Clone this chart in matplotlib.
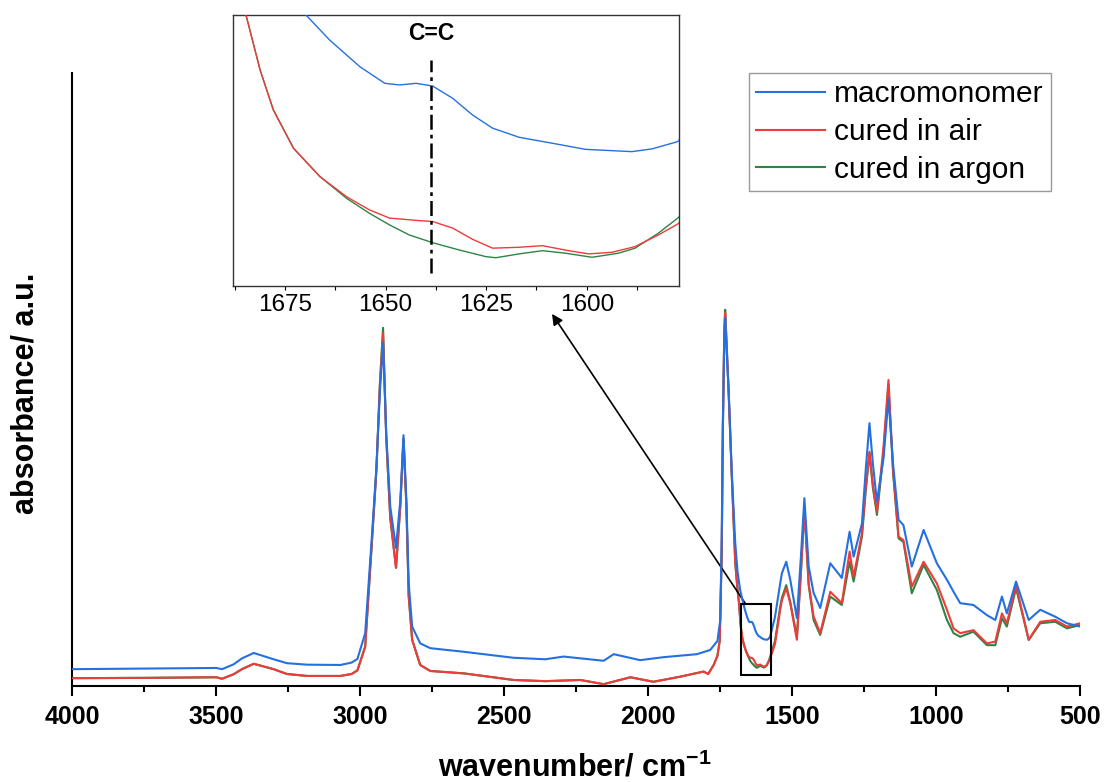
import matplotlib
matplotlib.use('Agg')
import matplotlib.pyplot as plt
from matplotlib.patches import Rectangle

plt.rcParams['font.family'] = ['Liberation Sans', 'DejaVu Sans']
plt.rcParams['mathtext.fontset'] = 'custom'
plt.rcParams['mathtext.rm'] = 'Liberation Sans'
plt.rcParams['mathtext.bf'] = 'Liberation Sans:bold'

# spectra (wavenumber in cm-1, absorbance in a.u.)
blue_wn = [4000, 3750, 3500, 3480, 3440, 3411, 3370, 3301, 3255, 3185, 3069, 3030, 3010,
           2983, 2959, 2944, 2932, 2921, 2910, 2896, 2876, 2861, 2850, 2840, 2832, 2820,
           2792, 2757, 2641, 2468, 2358, 2294, 2155, 2120, 2028, 1947, 1831, 1785, 1760,
           1750, 1745, 1741, 1736, 1733, 1728, 1721, 1710, 1698, 1690, 1681,
           1669.8, 1663.9, 1656.4, 1650.2, 1646.5, 1642.4, 1638.3, 1633.3, 1628.4, 1623.4,
           1616.8, 1608.6, 1600.3, 1588.8, 1583.8, 1577.4,
           1560, 1542, 1536, 1521, 1507, 1484, 1470, 1458, 1443, 1426, 1403, 1368, 1328,
           1301, 1287, 1258, 1245, 1232, 1220, 1206, 1183, 1166, 1150, 1131, 1114, 1085,
           1044, 998, 963, 940, 917, 871, 824, 795, 772, 755, 723, 679, 639, 587, 546, 500]
blue_abs = [0.028, 0.029, 0.030, 0.028, 0.036, 0.046, 0.055, 0.0445, 0.038, 0.0355, 0.035, 0.039, 0.045,
            0.088, 0.2545, 0.3655, 0.49, 0.572, 0.4217, 0.299, 0.23, 0.31, 0.418, 0.31, 0.172, 0.099,
            0.071, 0.063, 0.057, 0.047, 0.0445, 0.049, 0.042, 0.053, 0.043, 0.048, 0.053, 0.06, 0.075,
            0.11, 0.25, 0.438, 0.58, 0.613, 0.56, 0.493, 0.355, 0.238, 0.19, 0.16,
            0.137, 0.126, 0.1143, 0.107, 0.1063, 0.107, 0.1058, 0.1004, 0.0931, 0.0873,
            0.0833, 0.0807, 0.0780, 0.0770, 0.0782, 0.0814,
            0.115, 0.171, 0.188, 0.207, 0.177, 0.113, 0.2155, 0.313, 0.199, 0.155, 0.13, 0.2045, 0.18,
            0.257, 0.2155, 0.271, 0.36, 0.438, 0.37, 0.307, 0.38, 0.4795, 0.37, 0.277, 0.268, 0.199,
            0.26, 0.2045, 0.177, 0.157, 0.138, 0.135, 0.118, 0.11, 0.149, 0.121, 0.174, 0.11, 0.127,
            0.1155, 0.1045, 0.099]

red_wn = [4000, 3750, 3500, 3480, 3440, 3411, 3370, 3301, 3255, 3185, 3069, 3030, 3010,
          2983, 2959, 2944, 2932, 2921, 2910, 2896, 2876, 2861, 2850, 2840, 2832, 2820,
          2792, 2757, 2641, 2468, 2358, 2236, 2155, 2062, 1982, 1889, 1808, 1792, 1773,
          1760, 1752, 1745, 1741, 1736, 1733, 1728, 1721, 1710, 1698, 1690,
          1684.7, 1681.2, 1677.9, 1672.9, 1666.3, 1659.7, 1654, 1649, 1641.6, 1638.3,
          1633.3, 1628.4, 1623.4, 1616.8, 1611, 1604.5, 1599.5, 1593.7, 1588, 1582.2, 1577.4,
          1560, 1542, 1536, 1521, 1507, 1484, 1470, 1458, 1443, 1426, 1403, 1368, 1328,
          1301, 1287, 1258, 1245, 1232, 1220, 1206, 1183, 1166, 1150, 1131, 1114, 1085,
          1044, 998, 963, 940, 917, 871, 824, 795, 772, 755, 723, 679, 639, 587, 546, 500]
red_abs = [0.013, 0.0135, 0.0145, 0.012, 0.0195, 0.028, 0.037, 0.028, 0.020, 0.0167, 0.0167, 0.020, 0.026,
           0.0655, 0.245, 0.36, 0.50, 0.588, 0.415, 0.28, 0.197, 0.30, 0.412, 0.30, 0.15, 0.077,
           0.035, 0.025, 0.021, 0.010, 0.008, 0.010, 0.003, 0.0145, 0.007, 0.0155, 0.024, 0.02, 0.035,
           0.05, 0.075, 0.22, 0.43, 0.59, 0.622, 0.57, 0.49, 0.35, 0.205, 0.16,
           0.137, 0.1129, 0.0953, 0.0785, 0.066, 0.0572, 0.0514, 0.0478, 0.0467, 0.0463,
           0.0434, 0.0385, 0.0346, 0.0350, 0.0357, 0.0335, 0.0321, 0.0328, 0.0353, 0.0404, 0.0452,
           0.07, 0.127, 0.143, 0.163, 0.138, 0.077, 0.19, 0.296, 0.17, 0.116, 0.088, 0.157, 0.138,
           0.224, 0.182, 0.2545, 0.33, 0.3905, 0.335, 0.29, 0.40, 0.51, 0.36, 0.249, 0.243, 0.1655,
           0.207, 0.171, 0.127, 0.096, 0.088, 0.093, 0.071, 0.074, 0.121, 0.1045, 0.168, 0.077, 0.107,
           0.11, 0.099, 0.1045]

green_wn = [4000, 3750, 3500, 3480, 3440, 3411, 3370, 3301, 3255, 3185, 3069, 3030, 3010,
            2983, 2959, 2944, 2932, 2921, 2910, 2896, 2876, 2861, 2850, 2840, 2832, 2820,
            2792, 2757, 2641, 2468, 2358, 2236, 2155, 2062, 1982, 1889, 1808, 1792, 1773,
            1760, 1752, 1745, 1741, 1736, 1733, 1728, 1721, 1710, 1698, 1690,
            1684.7, 1681.2, 1677.9, 1672.9, 1666.3, 1659.7, 1654, 1649, 1644.1, 1638.3,
            1631.7, 1625.1, 1622.6, 1616.8, 1611, 1605.3, 1598.7, 1592.1, 1588, 1582.2, 1577.4,
            1560, 1542, 1536, 1521, 1507, 1484, 1470, 1458, 1443, 1426, 1403, 1368, 1328,
            1301, 1287, 1258, 1245, 1232, 1220, 1206, 1183, 1166, 1150, 1131, 1114, 1085,
            1044, 998, 963, 940, 917, 871, 824, 795, 772, 755, 723, 679, 639, 587, 546, 500]
green_abs = [0.013, 0.0135, 0.0145, 0.012, 0.0195, 0.028, 0.037, 0.028, 0.020, 0.0167, 0.0167, 0.020, 0.026,
             0.0655, 0.245, 0.36, 0.505, 0.597, 0.415, 0.28, 0.197, 0.30, 0.412, 0.30, 0.15, 0.077,
             0.035, 0.025, 0.021, 0.010, 0.008, 0.010, 0.003, 0.0145, 0.007, 0.0155, 0.024, 0.02, 0.035,
             0.05, 0.075, 0.22, 0.43, 0.595, 0.627, 0.57, 0.49, 0.35, 0.205, 0.16,
             0.137, 0.1129, 0.0953, 0.0785, 0.066, 0.0565, 0.0499, 0.0448, 0.0404, 0.0370,
             0.0338, 0.0309, 0.0304, 0.0321, 0.0335, 0.0324, 0.0306, 0.0324, 0.0346, 0.0412, 0.0478,
             0.075, 0.132, 0.147, 0.168, 0.14, 0.082, 0.19, 0.296, 0.168, 0.11, 0.085, 0.149, 0.135,
             0.207, 0.174, 0.249, 0.325, 0.388, 0.33, 0.285, 0.39, 0.502, 0.355, 0.246, 0.24, 0.1545,
             0.2017, 0.16, 0.11, 0.088, 0.082, 0.0905, 0.068, 0.068, 0.113, 0.099, 0.163, 0.0767, 0.1045,
             0.107, 0.096, 0.1017]

labels = ['macromonomer', 'cured in air', 'cured in argon']
colors = ['#2470E0', '#EE3B3B', '#2E8444']
cc_position = 1638.6  # C=C band marked in the inset

fig = plt.figure(figsize=(11.04, 7.82), dpi=100)
ax = fig.add_axes([0.0655, 0.1228, 0.913, 0.7839])

# green first, blue on top
ax.plot(green_wn, green_abs, color=colors[2], lw=1.5, label=labels[2], zorder=2)
ax.plot(red_wn, red_abs, color=colors[1], lw=1.5, label=labels[1], zorder=3)
ax.plot(blue_wn, blue_abs, color=colors[0], lw=1.5, label=labels[0], zorder=4)

ax.set_xlim(4000, 500)
ax.set_ylim(0, 1.0217)
ax.set_xticks([4000, 3500, 3000, 2500, 2000, 1500, 1000, 500])
ax.set_xticks(range(3750, 500, -500), minor=True)
ax.set_yticks([])
ax.tick_params(axis='x', which='major', direction='out', length=7, width=1.5, pad=7, labelsize=18)
ax.tick_params(axis='x', which='minor', direction='out', length=4.3, width=1.5)
for lab in ax.get_xticklabels():
    lab.set_fontweight('bold')
for s in ['top', 'right']:
    ax.spines[s].set_visible(False)
for s in ['left', 'bottom']:
    ax.spines[s].set_linewidth(1.5)

fig.text(0.521, 0.0064, r'wavenumber/ cm$^{\mathbf{-1}}$', ha='center', va='baseline',
         fontsize=22, fontweight='bold')
fig.text(0.023, 0.497, 'absorbance/ a.u.', ha='center', va='center', rotation=90,
         fontsize=22, fontweight='bold')

# zoom box on the main spectrum
ax.add_patch(Rectangle((1574, 0.018), 104.5, 0.1187, fill=False, ec='black', lw=1.5, zorder=5))

handles, labs = ax.get_legend_handles_labels()
order = [2, 1, 0]
leg = ax.legend([handles[i] for i in order], [labs[i] for i in order],
                loc='upper right', bbox_to_anchor=(1051 / 1104, 1 - 73 / 782),
                bbox_transform=fig.transFigure, fontsize=21.5, frameon=True, fancybox=False,
                edgecolor='#808080', borderpad=0.25, labelspacing=0.32, handlelength=2.3,
                handletextpad=0.3, borderaxespad=0)
leg.get_frame().set_linewidth(1.0)

# inset
axi = fig.add_axes([0.2108, 0.6343, 0.4045, 0.3465])
axi.plot(green_wn, green_abs, color=colors[2], lw=1.0, zorder=2)
axi.plot(red_wn, red_abs, color=colors[1], lw=1.0, zorder=3)
axi.plot(blue_wn, blue_abs, color=colors[0], lw=1.0, zorder=4)
axi.set_xlim(1688, 1577)
axi.set_ylim(0.018, 0.137)
axi.set_xticks([1675, 1650, 1625, 1600])
axi.set_xticks([1687.5, 1662.5, 1637.5, 1612.5, 1587.5], minor=True)
axi.set_yticks([])
axi.tick_params(axis='x', which='both', direction='out', length=3, width=0.8, pad=3, labelsize=17.5)
for s in axi.spines.values():
    s.set_linewidth(1.0)
    s.set_color('#333333')

axi.plot([cc_position, cc_position], [0.0237, 0.1172], color='black', lw=1.8,
         linestyle=(0, (6, 2, 1.5, 2)), zorder=5)
axi.text(cc_position, 0.129, 'C=C', ha='center', va='center', fontsize=16.5, fontweight='bold')

# arrow from the box to the inset
ax.annotate('', xy=(0.715, -0.103), xycoords=axi.transAxes,
            xytext=(1662, 0.1367), textcoords='data',
            arrowprops=dict(arrowstyle='-|>', color='black', lw=1.2, mutation_scale=16,
                            shrinkA=0, shrinkB=0))

fig.savefig('out.png', dpi=100)
